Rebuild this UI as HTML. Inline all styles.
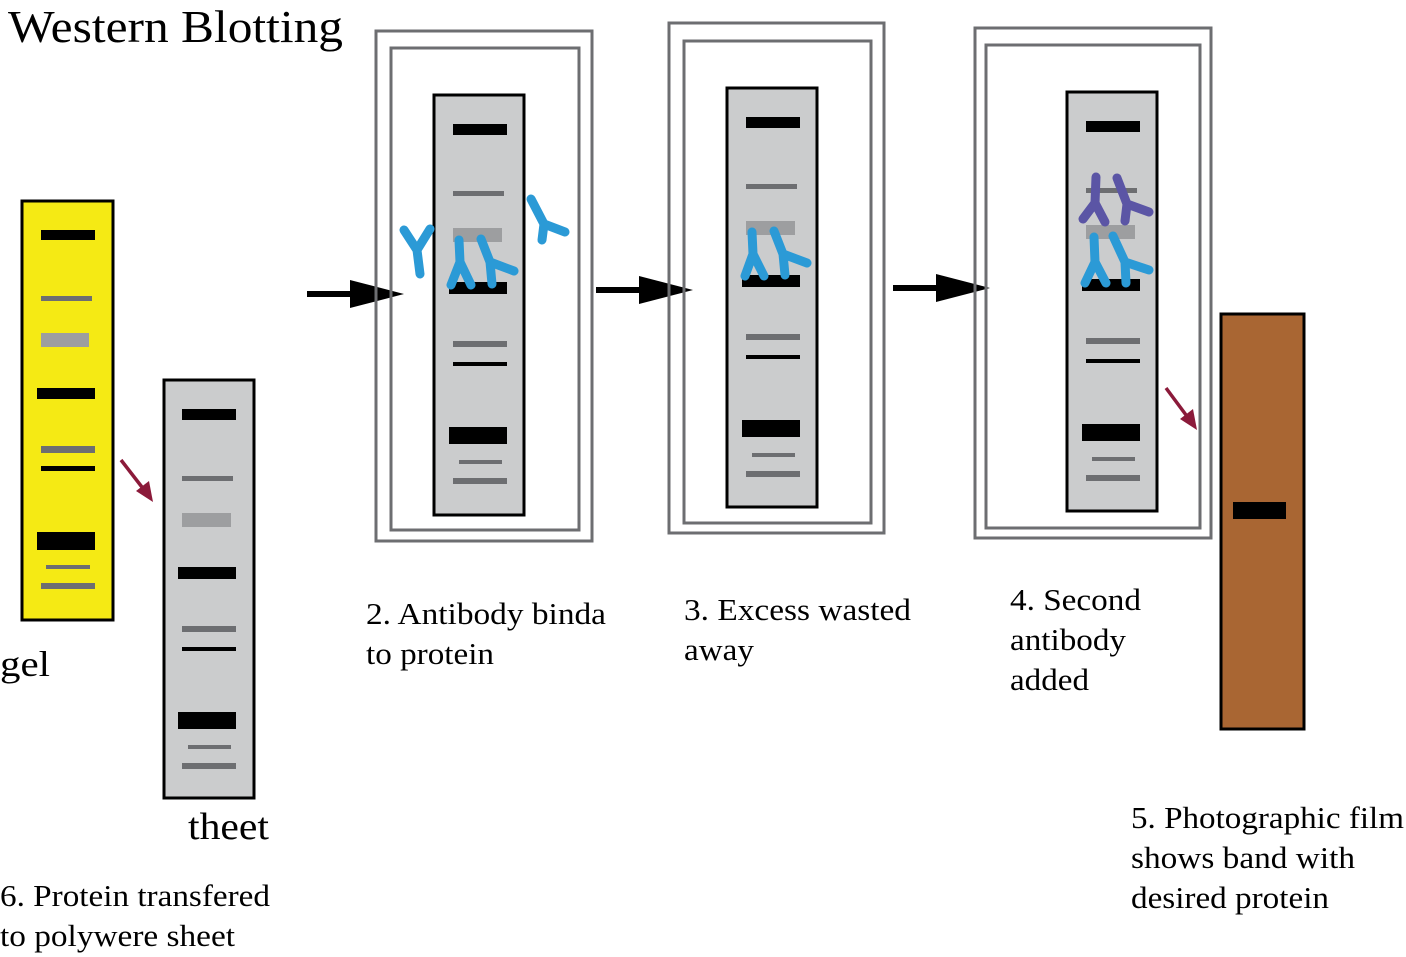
<!DOCTYPE html>
<html><head><style>html,body{margin:0;padding:0;background:#fff}svg{display:block}</style></head>
<body>
<svg width="1406" height="957" viewBox="0 0 1406 957" xmlns="http://www.w3.org/2000/svg" font-family="Liberation Serif, serif">
<defs>
<g id="bands">
<rect x="20" y="29" width="54" height="11" fill="#000"/>
<rect x="20" y="96" width="51" height="5" fill="#6d6e71"/>
<rect x="20" y="133" width="49" height="14" fill="#9d9ea0"/>
<rect x="16" y="187" width="58" height="12" fill="#000"/>
<rect x="20" y="246" width="54" height="6" fill="#6d6e71"/>
<rect x="20" y="267" width="54" height="4" fill="#000"/>
<rect x="16" y="332" width="58" height="17" fill="#000"/>
<rect x="26" y="365" width="43" height="4" fill="#6d6e71"/>
<rect x="20" y="383" width="54" height="6" fill="#6d6e71"/>
</g>
</defs>
<text x="8" y="42" font-size="46" textLength="335" lengthAdjust="spacingAndGlyphs">Western Blotting</text>

<!-- gel -->
<rect x="22" y="201" width="91" height="419" fill="#f5ea14" stroke="#000" stroke-width="3"/>
<rect x="41" y="230" width="54" height="10" fill="#000"/>
<rect x="41" y="296" width="51" height="5" fill="#6d6e71"/>
<rect x="41" y="333" width="48" height="14" fill="#9d9ea0"/>
<rect x="37" y="388" width="58" height="11" fill="#000"/>
<rect x="41" y="446" width="54" height="7" fill="#6d6e71"/>
<rect x="41" y="466" width="54" height="5" fill="#000"/>
<rect x="37" y="532" width="58" height="18" fill="#000"/>
<rect x="46" y="565" width="44" height="4" fill="#6d6e71"/>
<rect x="41" y="583" width="54" height="6" fill="#6d6e71"/>
<text x="0" y="676" font-size="36" textLength="50" lengthAdjust="spacingAndGlyphs">gel</text>

<!-- sheet -->
<rect x="164" y="380" width="90" height="418" fill="#cbcccd" stroke="#000" stroke-width="3"/>
<g transform="translate(162,380)"><use href="#bands"/></g>
<text x="188" y="839" font-size="38" textLength="81" lengthAdjust="spacingAndGlyphs">theet</text>
<text x="0" y="906" font-size="31" textLength="270" lengthAdjust="spacingAndGlyphs">6. Protein transfered</text>
<text x="0" y="946" font-size="31" textLength="235" lengthAdjust="spacingAndGlyphs">to polywere sheet</text>

<!-- red arrows -->
<g stroke="#8b1a3a" stroke-width="3.5" fill="#8b1a3a">
<line x1="121" y1="460" x2="145" y2="491"/>
<polygon points="153,502 136,491 149,481" stroke="none"/>
<line x1="1166" y1="388" x2="1189" y2="419"/>
<polygon points="1197,430 1180,419 1193,409" stroke="none"/>
</g>

<!-- black arrows -->
<g fill="#000">
<rect x="307" y="291" width="50" height="6"/><polygon points="350,280 404,294 350,308"/>
<rect x="596" y="287" width="50" height="6"/><polygon points="639,276 693,290 639,304"/>
<rect x="893" y="285" width="50" height="6"/><polygon points="936,274 990,288 936,302"/>
</g>

<!-- panel 2 -->
<rect x="376" y="31" width="216" height="510" fill="none" stroke="#6d6e71" stroke-width="3"/>
<rect x="391" y="48" width="188" height="482" fill="none" stroke="#6d6e71" stroke-width="3"/>
<rect x="434" y="95" width="90" height="420" fill="#cbcccd" stroke="#000" stroke-width="3"/>
<g transform="translate(433,95)"><use href="#bands"/></g>
<g fill="none" stroke="#2b9ad6" stroke-width="9" stroke-linecap="round" stroke-linejoin="round">
<path d="M404,230 L417,250 L430,229 M417,250 L420,274"/>
<path d="M531,199 L544,224 L565,232 M544,224 L542,240"/>
<path d="M459,240 L460,262 L451,285 M460,262 L471,285"/>
<path d="M481,239 L490,262 L492,284 M490,262 L514,271"/>
</g>
<text x="366" y="624" font-size="31" textLength="240" lengthAdjust="spacingAndGlyphs">2. Antibody binda</text>
<text x="366" y="664" font-size="31" textLength="128" lengthAdjust="spacingAndGlyphs">to protein</text>

<!-- panel 3 -->
<rect x="669" y="23" width="215" height="510" fill="none" stroke="#6d6e71" stroke-width="3"/>
<rect x="684" y="41" width="187" height="482" fill="none" stroke="#6d6e71" stroke-width="3"/>
<rect x="727" y="88" width="90" height="419" fill="#cbcccd" stroke="#000" stroke-width="3"/>
<g transform="translate(726,88)"><use href="#bands"/></g>
<g fill="none" stroke="#2b9ad6" stroke-width="9" stroke-linecap="round" stroke-linejoin="round">
<path d="M752,232 L753,254 L745,276 M753,254 L764,276"/>
<path d="M774,231 L783,254 L785,275 M783,254 L807,263"/>
</g>
<text x="684" y="620" font-size="31" textLength="227" lengthAdjust="spacingAndGlyphs">3. Excess wasted</text>
<text x="684" y="660" font-size="31" textLength="70" lengthAdjust="spacingAndGlyphs">away</text>

<!-- panel 4 -->
<rect x="975" y="28" width="236" height="510" fill="none" stroke="#6d6e71" stroke-width="3"/>
<rect x="986" y="45" width="214" height="483" fill="none" stroke="#6d6e71" stroke-width="3"/>
<rect x="1067" y="92" width="90" height="419" fill="#cbcccd" stroke="#000" stroke-width="3"/>
<g transform="translate(1066,92)"><use href="#bands"/></g>
<g fill="none" stroke-width="9" stroke-linecap="round" stroke-linejoin="round">
<path stroke="#2b9ad6" d="M1094,237 L1095,262 L1085,283 M1095,262 L1106,283"/>
<path stroke="#2b9ad6" d="M1113,236 L1125,262 L1126,283 M1125,262 L1149,270"/>
<path stroke="#5b55a5" d="M1096,177 L1095,203 L1083,219 M1095,203 L1105,222"/>
<path stroke="#5b55a5" d="M1117,178 L1127,204 L1125,221 M1127,204 L1149,212"/>
</g>
<text x="1010" y="610" font-size="31" textLength="131" lengthAdjust="spacingAndGlyphs">4. Second</text>
<text x="1010" y="650" font-size="31" textLength="116" lengthAdjust="spacingAndGlyphs">antibody</text>
<text x="1010" y="690" font-size="31" textLength="79" lengthAdjust="spacingAndGlyphs">added</text>

<!-- film -->
<rect x="1221" y="314" width="83" height="415" fill="#a96633" stroke="#000" stroke-width="3"/>
<rect x="1233" y="502" width="53" height="17" fill="#000"/>
<text x="1131" y="828" font-size="31" textLength="273" lengthAdjust="spacingAndGlyphs">5. Photographic film</text>
<text x="1131" y="868" font-size="31" textLength="224" lengthAdjust="spacingAndGlyphs">shows band with</text>
<text x="1131" y="908" font-size="31" textLength="198" lengthAdjust="spacingAndGlyphs">desired protein</text>
</svg>
</body></html>
